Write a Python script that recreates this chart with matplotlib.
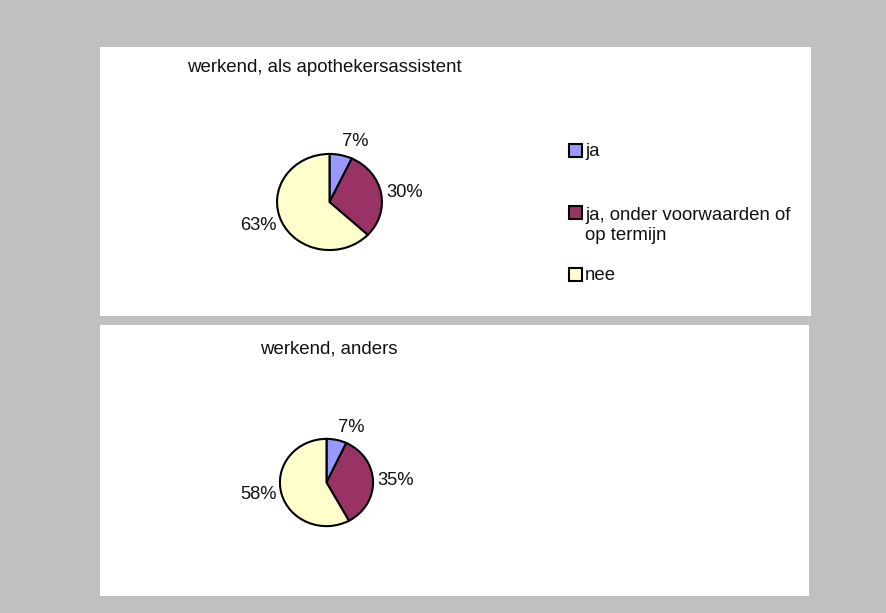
import matplotlib
matplotlib.use("Agg")
import matplotlib.pyplot as plt
import matplotlib.patches as patches

plt.rcParams['font.family'] = ['Liberation Sans', 'DejaVu Sans']

categories = ["ja", "ja, onder voorwaarden of\nop termijn", "nee"]
titles = ["werkend, als apothekersassistent", "werkend, anders"]
values_top = [7, 30, 63]
values_bottom = [7, 35, 58]
colors = ["#9999ff", "#993366", "#ffffcc"]

W, H = 886, 613
fig = plt.figure(figsize=(W/100, H/100), dpi=100)
fig.patch.set_facecolor("#c0c0c0")

def fx(x):
    return x / W

def fy(y):
    return 1 - y / H

# white panels
for (x0, y0, x1, y1) in [(100, 47, 811, 316), (100, 325, 809, 596)]:
    fig.patches.append(patches.Rectangle((fx(x0), fy(y1)), fx(x1) - fx(x0), fy(y0) - fy(y1),
                                         transform=fig.transFigure, facecolor="white",
                                         edgecolor="none", zorder=-5))

def draw_pie(values, cx, cy, w, h):
    ax = fig.add_axes([fx(cx - w/2), fy(cy + h/2), w/W, h/H])
    ax.set_zorder(2)
    wedges, texts = ax.pie(values, colors=colors, startangle=90, counterclock=False,
                           labels=[f"{v}%" for v in values], labeldistance=1.1,
                           wedgeprops=dict(edgecolor="black", linewidth=1.5),
                           textprops=dict(fontsize=13.2, color="#111111"))
    for t in texts:
        x, y = t.get_position()
        if y > 0.8:
            t.set_va("bottom")
        elif y < -0.3:
            t.set_va("top")
            t.set_position((x, y + 0.12))
    ax.set_xlim(-1.02, 1.02)
    ax.set_ylim(-1.02, 1.02)
    ax.set_aspect("auto")
    ax.axis("off")

draw_pie(values_top, 329.5, 202, 107, 98)
draw_pie(values_bottom, 326.5, 482.5, 95, 89)

fig.text(fx(187), fy(72), titles[0], fontsize=13.4, va="baseline", ha="left", color="#111111")
fig.text(fx(260), fy(353), titles[1], fontsize=13.4, va="baseline", ha="left", color="#111111")

# legend
leg_y = [150, 212, 274]
for lab, col, yc in zip(categories, colors, leg_y):
    fig.patches.append(patches.Rectangle((fx(569), fy(yc + 6.5)), 13/W, 13/H,
                                         transform=fig.transFigure, facecolor=col,
                                         edgecolor="black", linewidth=1.5, zorder=3))
    nlines = lab.count("\n")
    fig.text(fx(585), fy(yc + 6.5 + 21 * nlines), lab, fontsize=13.4, va="baseline",
             ha="left", linespacing=1.2, color="#111111")

fig.savefig("out.png", dpi=100, facecolor=fig.get_facecolor())
